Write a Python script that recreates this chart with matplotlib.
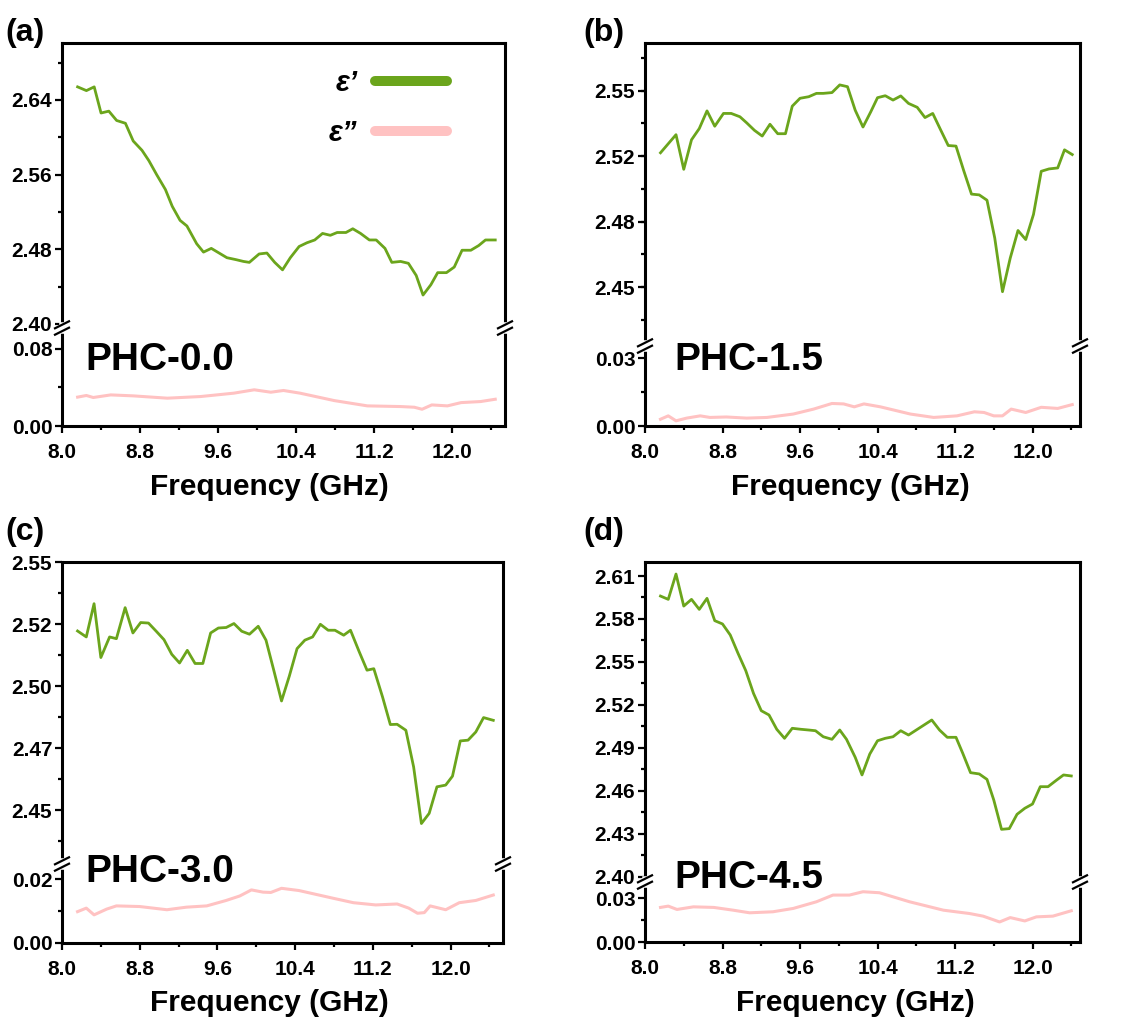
import matplotlib
matplotlib.use('Agg')
import matplotlib.pyplot as plt
from matplotlib.lines import Line2D
from matplotlib.ticker import FixedLocator, FixedFormatter, MultipleLocator

plt.rcParams['font.family'] = ['Liberation Sans', 'DejaVu Sans']
plt.rcParams['font.weight'] = 'bold'

# ---------------- data ----------------
freq_a1 = [8.16, 8.25, 8.33, 8.40, 8.48, 8.56, 8.65, 8.73, 8.82, 8.89, 8.97, 9.06, 9.13, 9.21,
           9.28, 9.38, 9.45, 9.53, 9.61, 9.69, 9.78, 9.86, 9.92, 10.02, 10.10, 10.18, 10.26,
           10.34, 10.43, 10.51, 10.59, 10.67, 10.75, 10.82, 10.91, 10.98, 11.06, 11.15, 11.22,
           11.31, 11.38, 11.47, 11.55, 11.63, 11.70, 11.78, 11.85, 11.94, 12.02, 12.10, 12.19,
           12.27, 12.34, 12.44]
eps1_a = [2.654, 2.650, 2.654, 2.626, 2.628, 2.618, 2.615, 2.596, 2.586, 2.575, 2.560, 2.544,
          2.526, 2.511, 2.505, 2.486, 2.477, 2.481, 2.476, 2.471, 2.469, 2.467, 2.466, 2.475,
          2.476, 2.466, 2.458, 2.471, 2.483, 2.487, 2.490, 2.497, 2.495, 2.498, 2.498, 2.502,
          2.497, 2.490, 2.490, 2.481, 2.466, 2.467, 2.465, 2.452, 2.431, 2.442, 2.455, 2.455,
          2.461, 2.479, 2.479, 2.484, 2.490, 2.490]
freq_a2 = [8.16, 8.25, 8.32, 8.50, 8.73, 9.08, 9.42, 9.76, 9.97, 10.14, 10.27, 10.44, 10.79,
           11.13, 11.47, 11.61, 11.69, 11.79, 11.95, 12.09, 12.29, 12.44]
eps2_a = [0.0300, 0.0317, 0.0296, 0.0323, 0.0313, 0.0289, 0.0306, 0.0341, 0.0376, 0.0351,
          0.0369, 0.0341, 0.0264, 0.0209, 0.0202, 0.0195, 0.0174, 0.0219, 0.0209, 0.0243,
          0.0254, 0.0278]

freq_b1 = [8.16, 8.24, 8.32, 8.40, 8.48, 8.56, 8.64, 8.72, 8.81, 8.89, 8.98, 9.05, 9.13, 9.21,
           9.29, 9.37, 9.45, 9.52, 9.60, 9.69, 9.77, 9.84, 9.93, 10.01, 10.09, 10.17, 10.25,
           10.33, 10.40, 10.48, 10.56, 10.64, 10.72, 10.81, 10.89, 10.97, 11.05, 11.13, 11.21,
           11.29, 11.37, 11.45, 11.53, 11.61, 11.69, 11.77, 11.85, 11.93, 12.01, 12.09, 12.17,
           12.26, 12.33, 12.41]
eps1_b = [2.5184, 2.5230, 2.5276, 2.5100, 2.5250, 2.5307, 2.5397, 2.5319, 2.5384, 2.5384,
          2.5367, 2.5336, 2.5298, 2.5269, 2.5329, 2.5281, 2.5281, 2.5421, 2.5461, 2.5469,
          2.5486, 2.5486, 2.5490, 2.5529, 2.5520, 2.5400, 2.5315, 2.5392, 2.5464, 2.5474,
          2.5452, 2.5473, 2.5435, 2.5415, 2.5363, 2.5384, 2.5302, 2.5221, 2.5218, 2.5093,
          2.4974, 2.4970, 2.4943, 2.4751, 2.4478, 2.4649, 2.4789, 2.4743, 2.4871, 2.5090,
          2.5102, 2.5107, 2.5199, 2.5175]
freq_b2 = [8.16, 8.24, 8.32, 8.43, 8.57, 8.67, 8.84, 9.05, 9.26, 9.53, 9.74, 9.93, 10.05,
           10.16, 10.26, 10.43, 10.74, 10.98, 11.22, 11.40, 11.50, 11.60, 11.69, 11.78, 11.93,
           12.09, 12.26, 12.41]
eps2_b = [0.0030, 0.0045, 0.0023, 0.0035, 0.0045, 0.0038, 0.0040, 0.0035, 0.0038, 0.0053,
          0.0075, 0.0100, 0.0098, 0.0085, 0.0098, 0.0085, 0.0053, 0.0038, 0.0045, 0.0063,
          0.0060, 0.0045, 0.0045, 0.0075, 0.0060, 0.0083, 0.0078, 0.0095]

freq_c1 = [8.16, 8.25, 8.33, 8.40, 8.49, 8.56, 8.65, 8.73, 8.81, 8.89, 8.97, 9.05, 9.13, 9.21,
           9.29, 9.37, 9.45, 9.53, 9.61, 9.69, 9.77, 9.85, 9.93, 10.02, 10.10, 10.18, 10.26,
           10.34, 10.42, 10.50, 10.58, 10.66, 10.74, 10.81, 10.90, 10.97, 11.06, 11.14, 11.21,
           11.30, 11.38, 11.45, 11.54, 11.62, 11.70, 11.78, 11.86, 11.95, 12.02, 12.10, 12.18,
           12.26, 12.34, 12.44]
eps1_c = [2.5222, 2.5198, 2.5332, 2.5115, 2.5198, 2.5191, 2.5316, 2.5214, 2.5256, 2.5254,
          2.5221, 2.5187, 2.5128, 2.5093, 2.5144, 2.5091, 2.5091, 2.5214, 2.5234, 2.5236,
          2.5252, 2.5221, 2.5209, 2.5241, 2.5185, 2.5064, 2.4940, 2.5040, 2.5151, 2.5185,
          2.5198, 2.5249, 2.5225, 2.5225, 2.5205, 2.5225, 2.5138, 2.5064, 2.5070, 2.4956,
          2.4845, 2.4846, 2.4822, 2.4674, 2.4446, 2.4487, 2.4594, 2.4601, 2.4637, 2.4779,
          2.4782, 2.4815, 2.4873, 2.4862]
freq_c2 = [8.16, 8.25, 8.33, 8.46, 8.56, 8.80, 9.08, 9.28, 9.49, 9.69, 9.83, 9.95, 10.07,
           10.15, 10.26, 10.44, 10.79, 11.00, 11.23, 11.45, 11.57, 11.66, 11.73, 11.79, 11.95,
           12.09, 12.26, 12.44]
eps2_c = [0.0098, 0.0109, 0.0088, 0.0106, 0.0116, 0.0114, 0.0104, 0.0112, 0.0116, 0.0133,
          0.0147, 0.0166, 0.0159, 0.0158, 0.0171, 0.0164, 0.0140, 0.0126, 0.0119, 0.0122,
          0.0109, 0.0093, 0.0095, 0.0116, 0.0104, 0.0126, 0.0133, 0.0150]

freq_d1 = [8.16, 8.24, 8.32, 8.40, 8.48, 8.56, 8.64, 8.72, 8.80, 8.88, 8.96, 9.04, 9.12, 9.20,
           9.28, 9.36, 9.44, 9.52, 9.61, 9.69, 9.76, 9.84, 9.93, 10.01, 10.08, 10.17, 10.24,
           10.32, 10.40, 10.48, 10.56, 10.64, 10.72, 10.80, 10.88, 10.96, 11.04, 11.12, 11.21,
           11.28, 11.36, 11.45, 11.53, 11.60, 11.68, 11.76, 11.84, 11.92, 12.00, 12.08, 12.16,
           12.25, 12.32, 12.40]
eps1_d = [2.5960, 2.5937, 2.6114, 2.5890, 2.5937, 2.5867, 2.5944, 2.5788, 2.5765, 2.5688,
          2.5560, 2.5439, 2.5280, 2.5159, 2.5129, 2.5029, 2.4966, 2.5036, 2.5029, 2.5024,
          2.5019, 2.4977, 2.4959, 2.5024, 2.4959, 2.4833, 2.4710, 2.4856, 2.4949, 2.4966,
          2.4977, 2.5019, 2.4989, 2.5024, 2.5059, 2.5094, 2.5024, 2.4973, 2.4973, 2.4861,
          2.4726, 2.4717, 2.4679, 2.4535, 2.4330, 2.4335, 2.4435, 2.4477, 2.4507, 2.4628,
          2.4628, 2.4675, 2.4710, 2.4703]
freq_d2 = [8.16, 8.24, 8.33, 8.50, 8.71, 8.91, 9.08, 9.32, 9.53, 9.77, 9.94, 10.11, 10.25,
           10.42, 10.73, 11.08, 11.35, 11.49, 11.66, 11.77, 11.92, 12.04, 12.21, 12.40]
eps2_d = [0.0238, 0.0247, 0.0224, 0.0242, 0.0238, 0.0219, 0.0201, 0.0208, 0.0231, 0.0277,
          0.0323, 0.0323, 0.0346, 0.0339, 0.0277, 0.0219, 0.0196, 0.0178, 0.0138, 0.0168,
          0.0145, 0.0173, 0.0178, 0.0215]

xticks = [8.0, 8.8, 9.6, 10.4, 11.2, 12.0]
xticklabels = ['8.0', '8.8', '9.6', '10.4', '11.2', '12.0']

panel_letters = ['(a)', '(b)', '(c)', '(d)']
sample_names = ['PHC-0.0', 'PHC-1.5', 'PHC-3.0', 'PHC-4.5']
series_labels = ['ε’', 'ε”']

yt_a_top = [2.40, 2.48, 2.56, 2.64]
yl_a_top = ['2.40', '2.48', '2.56', '2.64']
yt_a_bot = [0.00, 0.08]
yl_a_bot = ['0.00', '0.08']
yt_b_top = [2.45, 2.48333, 2.51667, 2.55]
yl_b_top = ['2.45', '2.48', '2.52', '2.55']
yt_b_bot = [0.00, 0.03]
yl_b_bot = ['0.00', '0.03']
yt_c_top = [2.45, 2.475, 2.50, 2.525, 2.55]
yl_c_top = ['2.45', '2.47', '2.50', '2.52', '2.55']
yt_c_bot = [0.00, 0.02]
yl_c_bot = ['0.00', '0.02']
yt_d_top = [2.40, 2.43, 2.46, 2.49, 2.52, 2.55, 2.58, 2.61]
yl_d_top = ['2.40', '2.43', '2.46', '2.49', '2.52', '2.55', '2.58', '2.61']
yt_d_bot = [0.00, 0.03]
yl_d_bot = ['0.00', '0.03']

# ---------------- layout / style ----------------
GREEN = '#6BA51C'
PINK = '#FFC2C2'
W, H = 1127, 1019
fig = plt.figure(figsize=(W / 100, H / 100), dpi=100)


def fx(x):
    return x / W


def fy(y):
    return 1 - y / H


panels = [
    dict(L=62, R=505, T=43, B=426, brk=328, xlim=(8.0, 12.54),
         top=(2.3957, 2.701), bot=(0.0, 0.1018), tminor=0.04, bminor=0.04,
         f1=freq_a1, e1=eps1_a, f2=freq_a2, e2=eps2_a,
         yt=yt_a_top, yl=yl_a_top, ybt=yt_a_bot, ybl=yl_a_bot,
         letter=(5, 41), name=(85, 370), xlab=(269, 495)),
    dict(L=645, R=1080, T=43, B=426, brk=346, xlim=(8.0, 12.49),
         top=(2.4202, 2.5742), bot=(0.0, 0.0355), tminor=0.016667, bminor=0.015,
         f1=freq_b1, e1=eps1_b, f2=freq_b2, e2=eps2_b,
         yt=yt_b_top, yl=yl_b_top, ybt=yt_b_bot, ybl=yl_b_bot,
         letter=(583, 41), name=(674, 370), xlab=(850, 495)),
    dict(L=62, R=503, T=562, B=943, brk=864, xlim=(8.0, 12.54),
         top=(2.4283, 2.55), bot=(0.0, 0.0247), tminor=0.0125, bminor=0.01,
         f1=freq_c1, e1=eps1_c, f2=freq_c2, e2=eps2_c,
         yt=yt_c_top, yl=yl_c_top, ybt=yt_c_bot, ybl=yl_c_bot,
         letter=(5, 540), name=(85, 882), xlab=(269, 1011)),
    dict(L=645, R=1080, T=562, B=942, brk=882, xlim=(8.0, 12.49),
         top=(2.3962, 2.6198), bot=(0.0, 0.0413), tminor=0.015, bminor=0.015,
         f1=freq_d1, e1=eps1_d, f2=freq_d2, e2=eps2_d,
         yt=yt_d_top, yl=yl_d_top, ybt=yt_d_bot, ybl=yl_d_bot,
         letter=(583, 540), name=(674, 888), xlab=(855, 1011)),
]

SPINE_LW = 2.2
TICK_FS = 15

for i, p in enumerate(panels):
    L, R, T, B, brk = p['L'], p['R'], p['T'], p['B'], p['brk']
    ax_t = fig.add_axes([fx(L), fy(brk), (R - L) / W, (brk - T) / H])
    ax_b = fig.add_axes([fx(L), fy(B), (R - L) / W, (B - brk) / H])

    ax_t.plot(p['f1'], p['e1'], color=GREEN, lw=2.0, solid_joinstyle='round')
    ax_b.plot(p['f2'], p['e2'], color=PINK, lw=2.2, solid_joinstyle='round')

    for ax in (ax_t, ax_b):
        ax.set_xlim(*p['xlim'])
        for s in ax.spines.values():
            s.set_linewidth(SPINE_LW)
        ax.tick_params(axis='both', which='both', direction='out', top=False, right=False,
                       width=1.6, labelsize=TICK_FS)
        ax.tick_params(axis='both', which='major', length=5)
        ax.tick_params(axis='both', which='minor', length=3)
        ax.tick_params(axis='y', pad=2)
        ax.xaxis.set_major_locator(FixedLocator(xticks))
        ax.xaxis.set_major_formatter(FixedFormatter(xticklabels))
        ax.xaxis.set_minor_locator(MultipleLocator(0.4))

    ax_t.spines['bottom'].set_visible(False)
    ax_b.spines['top'].set_visible(False)
    ax_t.tick_params(axis='x', which='both', bottom=False, labelbottom=False)
    ax_b.tick_params(axis='x', pad=7)

    ax_t.set_ylim(*p['top'])
    ax_t.yaxis.set_major_locator(FixedLocator(p['yt']))
    ax_t.yaxis.set_major_formatter(FixedFormatter(p['yl']))
    ax_t.yaxis.set_minor_locator(MultipleLocator(p['tminor']))
    ax_b.set_ylim(*p['bot'])
    ax_b.yaxis.set_major_locator(FixedLocator(p['ybt']))
    ax_b.yaxis.set_major_formatter(FixedFormatter(p['ybl']))
    ax_b.yaxis.set_minor_locator(MultipleLocator(p['bminor']))

    for lab in ax_t.get_yticklabels() + ax_b.get_yticklabels() + ax_b.get_xticklabels():
        lab.set_fontweight('bold')

    # axis break marks
    for xs in (L, R):
        fig.add_artist(Line2D([fx(xs), fx(xs)], [fy(brk - 3), fy(brk + 3)],
                              transform=fig.transFigure, color='white', lw=4, zorder=10))
        for off in (-3.2, 3.2):
            fig.add_artist(Line2D([fx(xs - 7), fx(xs + 7)],
                                  [fy(brk + off + 3.5), fy(brk + off - 3.5)],
                                  transform=fig.transFigure, color='black', lw=1.6,
                                  zorder=11))

    fig.text(fx(p['letter'][0]), fy(p['letter'][1]), panel_letters[i], fontsize=23,
             fontweight='bold', ha='left', va='baseline')
    fig.text(fx(p['name'][0]), fy(p['name'][1]), sample_names[i], fontsize=28,
             fontweight='bold', ha='left', va='baseline')
    fig.text(fx(p['xlab'][0]), fy(p['xlab'][1]), 'Frequency (GHz)', fontsize=21.5,
             fontweight='bold', ha='center', va='baseline')

    if i == 0:
        handles = [Line2D([], [], color=GREEN, lw=7.2, solid_capstyle='round'),
                   Line2D([], [], color=PINK, lw=7.2, solid_capstyle='round')]
        leg = ax_t.legend(handles, series_labels, loc='upper left',
                          bbox_to_anchor=(fx(329), fy(69)), bbox_transform=fig.transFigure,
                          frameon=False, markerfirst=False, borderpad=0, borderaxespad=0,
                          handlelength=2.45, handletextpad=0.6, labelspacing=0.75,
                          prop=dict(family=['Liberation Sans', 'DejaVu Sans'], size=21,
                                    weight='bold', style='italic'))

fig.savefig('out.png', dpi=100)
